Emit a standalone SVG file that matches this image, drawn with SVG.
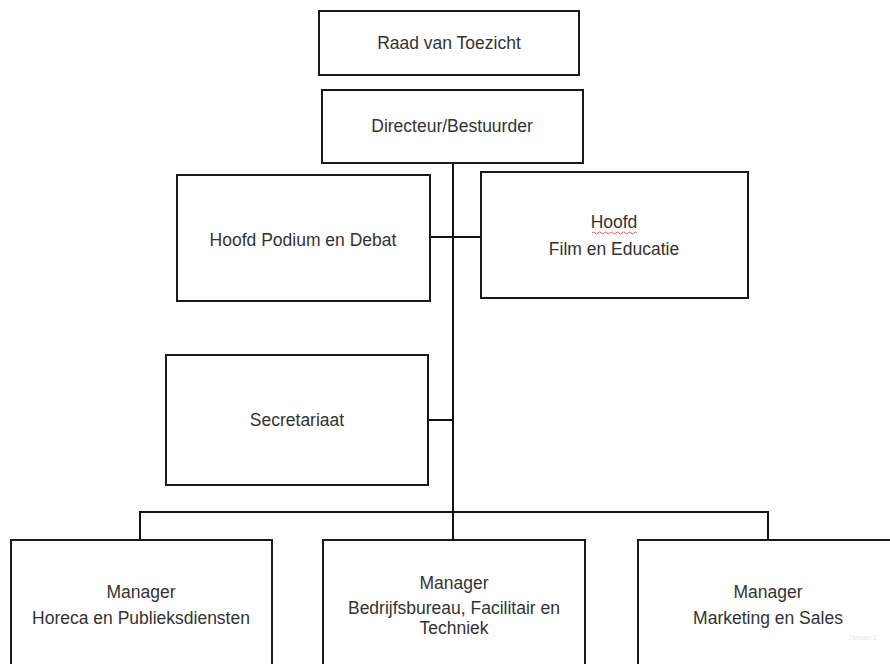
<svg xmlns="http://www.w3.org/2000/svg" width="890" height="664" viewBox="0 0 890 664">
<style>
.box{fill:#fff;stroke:#1a1a1a;stroke-width:2}
.t{font-family:"Liberation Sans",Arial,sans-serif;font-size:17.5px;fill:#333;text-anchor:middle;dominant-baseline:central}
.c{fill:none;stroke:#111;stroke-width:2}
</style>
<rect width="890" height="664" fill="#fff"/>
<g id="connectors">
<path class="c" d="M453 163 V540"/>
<path class="c" d="M430 237 H481"/>
<path class="c" d="M428 420 H453"/>
<path class="c" d="M140 540 V512 H768 V540"/>
</g>
<g id="raad"><rect class="box" x="319" y="11" width="260" height="64"/><text class="t" x="449" y="43">Raad van Toezicht</text></g>
<g id="directeur"><rect class="box" x="322" y="90" width="261" height="73"/><text class="t" x="452" y="126">Directeur/Bestuurder</text></g>
<g id="podium"><rect class="box" x="177" y="175" width="253" height="126"/><text class="t" x="303" y="240">Hoofd Podium en Debat</text></g>
<g id="film"><rect class="box" x="481" y="172" width="267" height="126"/><text class="t" x="614" y="222">Hoofd</text><path d="M592 233 q1.5 -2 3 0 t3 0 t3 0 t3 0 t3 0 t3 0 t3 0 t3 0 t3 0 t3 0 t3 0 t3 0 t3 0 t3 0 t3 0" fill="none" stroke="#e03030" stroke-width="0.8"/><text class="t" x="614" y="249">Film en Educatie</text></g>
<g id="secretariaat"><rect class="box" x="166" y="355" width="262" height="130"/><text class="t" x="297" y="420">Secretariaat</text></g>
<g id="horeca"><rect class="box" x="11" y="540" width="261" height="140"/><text class="t" x="141" y="592">Manager</text><text class="t" x="141" y="618">Horeca en Publieksdiensten</text></g>
<g id="bedrijf"><rect class="box" x="323" y="540" width="262" height="140"/><text class="t" x="454" y="583">Manager</text><text class="t" x="454" y="608">Bedrijfsbureau, Facilitair en</text><text class="t" x="454" y="628">Techniek</text></g>
<g id="marketing"><rect class="box" x="638" y="540" width="262" height="140"/><text class="t" x="768" y="592">Manager</text><text class="t" x="768" y="618">Marketing en Sales</text></g>
<text x="848" y="640" font-family="Liberation Sans,sans-serif" font-size="7" fill="#e6e6e6">Januari 2</text>
</svg>
